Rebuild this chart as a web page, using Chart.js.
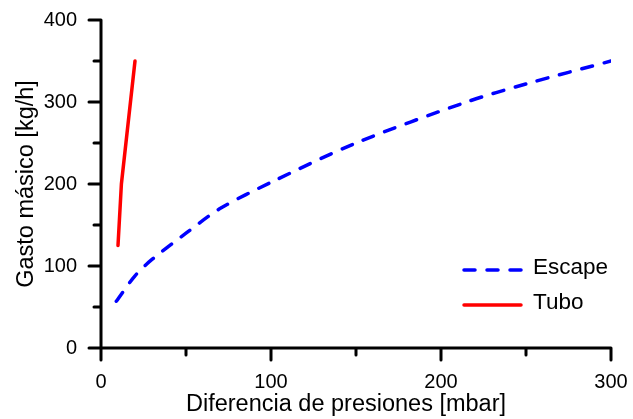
<!DOCTYPE html>
<html>
<head>
<meta charset="utf-8">
<script src="https://cdn.jsdelivr.net/npm/chart.js@4"></script>
<style>
  body { margin: 0; background: #fff; }
  #myChart { display: block; }
</style>
</head>
<body>
<canvas id="myChart" width="633" height="419"></canvas>
<script>
// Escape curve (dashed blue)
var escapeDp = [9, 20, 30, 50, 70, 100, 150, 215, 250, 300];
var escapeFlow = [57, 88, 108, 140, 170, 202, 250, 300, 322, 350];
// Tube curve (solid red)
var tuboDp = [10, 12, 20];
var tuboFlow = [125, 200, 350];

var seriesLabels = ['Escape', 'Tubo'];
var xTitle = 'Diferencia de presiones [mbar]';
var yTitle = 'Gasto másico [kg/h]';

var fontFamily = "'Liberation Sans', Arial, sans-serif";

function toPoints(xs, ys) {
    var pts = [];
    for (var i = 0; i < xs.length; i++) {
        pts.push({x: xs[i], y: ys[i]});
    }
    return pts;
}

function majorOnly(v) {
    return (v % 100 === 0) ? v : '';
}

// Axis lines with long major ticks and short minor ticks, drawn outside the plot
var axisFrame = {
    id: 'axisFrame',
    afterDraw: function (chart) {
        var ctx = chart.ctx;
        var a = chart.chartArea;
        var xs = chart.scales.x, ys = chart.scales.y;
        var major = 12, minor = 7;
        ctx.save();
        ctx.strokeStyle = '#000';
        ctx.lineWidth = 3;
        ctx.lineCap = 'round';
        ctx.beginPath();
        ctx.moveTo(a.left, ys.getPixelForValue(ys.max));
        ctx.lineTo(a.left, a.bottom + major);
        ctx.moveTo(a.left - major, a.bottom);
        ctx.lineTo(xs.getPixelForValue(xs.max), a.bottom);
        xs.ticks.forEach(function (t) {
            var px = xs.getPixelForValue(t.value);
            var len = (t.value % 100 === 0) ? major : minor;
            ctx.moveTo(px, a.bottom);
            ctx.lineTo(px, a.bottom + len);
        });
        ys.ticks.forEach(function (t) {
            var py = ys.getPixelForValue(t.value);
            var len = (t.value % 100 === 0) ? major : minor;
            ctx.moveTo(a.left, py);
            ctx.lineTo(a.left - len, py);
        });
        ctx.stroke();

        // x axis title, sitting a little left of the plot centre
        ctx.font = '23.5px ' + fontFamily;
        ctx.fillStyle = '#000';
        ctx.textAlign = 'center';
        ctx.textBaseline = 'middle';
        ctx.fillText(xTitle, (a.left + a.right) / 2 - 10, a.bottom + 57);
        ctx.restore();
    }
};

// Legend box in the lower right corner of the plot
var innerLegend = {
    id: 'innerLegend',
    afterDraw: function (chart) {
        var ctx = chart.ctx;
        var a = chart.chartArea;
        var rows = [a.bottom - 78, a.bottom - 43];
        ctx.save();
        ctx.font = '22.5px ' + fontFamily;
        ctx.textBaseline = 'middle';
        ctx.fillStyle = '#000';
        chart.data.datasets.forEach(function (ds, i) {
            var y = rows[i];
            ctx.strokeStyle = ds.borderColor;
            ctx.lineWidth = ds.borderWidth;
            ctx.lineCap = ds.borderCapStyle || 'butt';
            ctx.setLineDash(ds.borderDash || []);
            ctx.beginPath();
            ctx.moveTo(a.right - 147, y);
            ctx.lineTo(a.right - 90, y);
            ctx.stroke();
            ctx.fillText(ds.label, a.right - 78, y - 2);
        });
        ctx.restore();
    }
};

var config = {
    type: 'line',
    data: {
        datasets: [{
            label: seriesLabels[0],
            data: toPoints(escapeDp, escapeFlow),
            borderColor: '#0000ff',
            borderWidth: 3.5,
            borderDash: [11, 12],
            borderCapStyle: 'round',
            pointRadius: 0,
            tension: 0.3
        }, {
            label: seriesLabels[1],
            data: toPoints(tuboDp, tuboFlow),
            borderColor: '#ff0000',
            borderWidth: 3.5,
            borderCapStyle: 'round',
            pointRadius: 0,
            tension: 0
        }]
    },
    options: {
        responsive: false,
        animation: false,
        layout: { padding: { top: 20, right: 22, left: 0, bottom: 0 } },
        plugins: {
            legend: { display: false },
            tooltip: { enabled: false }
        },
        scales: {
            x: {
                type: 'linear',
                min: 0, max: 300,
                grid: { display: false, drawTicks: false },
                border: { display: false },
                ticks: {
                    stepSize: 50, autoSkip: false, maxRotation: 0,
                    padding: 22, color: '#000',
                    font: { family: fontFamily, size: 20 },
                    callback: majorOnly
                },
                title: { display: false },
                afterFit: function (s) {
                    s.height = 71;
                    s.paddingLeft = 0;
                    s.paddingRight = 0;
                }
            },
            y: {
                min: 0, max: 400,
                grid: { display: false, drawTicks: false },
                border: { display: false },
                ticks: {
                    stepSize: 50, autoSkip: false,
                    padding: 24, color: '#000',
                    font: { family: fontFamily, size: 20 },
                    callback: majorOnly
                },
                title: {
                    display: true, text: yTitle, color: '#000',
                    font: { family: fontFamily, size: 23.5 },
                    padding: { top: 12, bottom: 0 }
                },
                afterFit: function (s) {
                    s.width = 101;
                    s.paddingTop = 0;
                    s.paddingBottom = 0;
                }
            }
        }
    },
    plugins: [axisFrame, innerLegend]
};

var myChart = new Chart(document.getElementById('myChart').getContext('2d'), config);
</script>
</body>
</html>
